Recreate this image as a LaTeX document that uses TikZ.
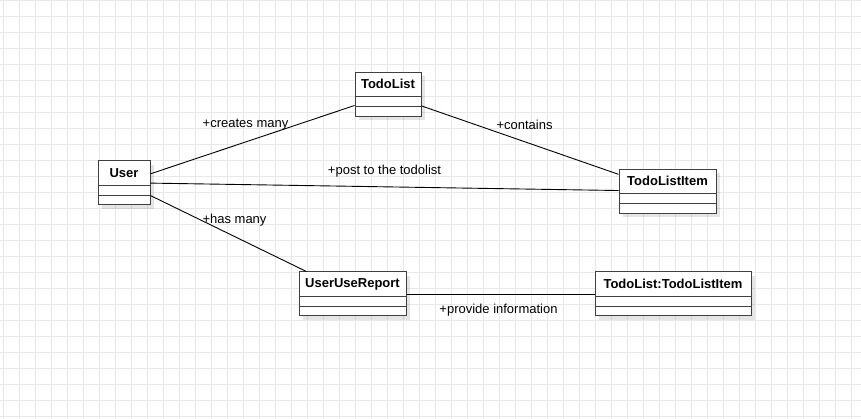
\documentclass[tikz,border=0pt]{standalone}
\usepackage{fontspec}
\setmainfont{Liberation Sans}
\usepackage{tikz}
\usetikzlibrary{shadows}

\begin{document}
\begin{tikzpicture}[x=1pt,y=1pt,
  gridline/.style={draw=gray!18,line width=1pt},
  classbox/.style={draw=black!75,line width=1pt,fill=white,minimum height=44pt,inner sep=0pt,
    drop shadow={shadow xshift=4pt,shadow yshift=-4pt,fill=black,opacity=0.1}},
  classname/.style={font=\fontsize{13}{15}\selectfont\bfseries,inner sep=0pt},
  divider/.style={draw=black!75,line width=1pt},
  assoc/.style={draw=black,line width=0.9pt},
  lbl/.style={font=\fontsize{13}{15}\selectfont,inner sep=0pt}]

 \useasboundingbox (0,0) rectangle (861,419);
 \fill[white] (0,0) rectangle (861,419);

% background grid of the editor
 \draw[gridline,shift={(3pt,2pt)}] (-3,-2) grid[step=16pt] (858,417);

% class User
 \node[classbox,minimum width=52pt] (user) at (124,236.3) {};
 \node[classname] (usertitle) at ([yshift=-12.5pt]user.north) {User};
 \draw[divider] ([yshift=-25pt]user.north west) -- ([yshift=-25pt]user.north east);
 \draw[divider] ([yshift=-35pt]user.north west) -- ([yshift=-35pt]user.north east);

% class TodoList
 \node[classbox,minimum width=66pt] (todolist) at (388,324.7) {};
 \node[classname] (todolisttitle) at ([yshift=-12.5pt]todolist.north) {TodoList};
 \draw[divider] ([yshift=-25pt]todolist.north west) -- ([yshift=-25pt]todolist.north east);
 \draw[divider] ([yshift=-35pt]todolist.north west) -- ([yshift=-35pt]todolist.north east);

% class TodoListItem
 \node[classbox,minimum width=97pt] (item) at (667.5,227.7) {};
 \node[classname] (itemtitle) at ([yshift=-12.5pt]item.north) {TodoListItem};
 \draw[divider] ([yshift=-25pt]item.north west) -- ([yshift=-25pt]item.north east);
 \draw[divider] ([yshift=-35pt]item.north west) -- ([yshift=-35pt]item.north east);

% class UserUseReport
 \node[classbox,minimum width=107pt] (report) at (352.5,125) {};
 \node[classname] (reporttitle) at ([yshift=-12.5pt]report.north) {UserUseReport};
 \draw[divider] ([yshift=-25pt]report.north west) -- ([yshift=-25pt]report.north east);
 \draw[divider] ([yshift=-35pt]report.north west) -- ([yshift=-35pt]report.north east);

% class TodoList:TodoListItem
 \node[classbox,minimum width=156pt] (listitem) at (673,125) {};
 \node[classname] (listitemtitle) at ([yshift=-12.5pt]listitem.north) {TodoList:TodoListItem};
 \draw[divider] ([yshift=-25pt]listitem.north west) -- ([yshift=-25pt]listitem.north east);
 \draw[divider] ([yshift=-35pt]listitem.north west) -- ([yshift=-35pt]listitem.north east);

% associations
 \draw[assoc] (user) -- (todolist);
 \draw[assoc] (todolist) -- (item);
 \draw[assoc] (user) -- (item);
 \draw[assoc] (user) -- (report);
 \draw[assoc] (report) -- (listitem);

% association labels
 \node[lbl] (lcreates) at (245.5,294) {+creates many};
 \node[lbl] (lcontains) at (524.5,294) {+contains};
 \node[lbl] (lpost) at (384.5,248) {+post to the todolist};
 \node[lbl] (lhas) at (234.5,199) {+has many};
 \node[lbl] (lprovide) at (498.5,109) {+provide information};

\end{tikzpicture}
\end{document}
